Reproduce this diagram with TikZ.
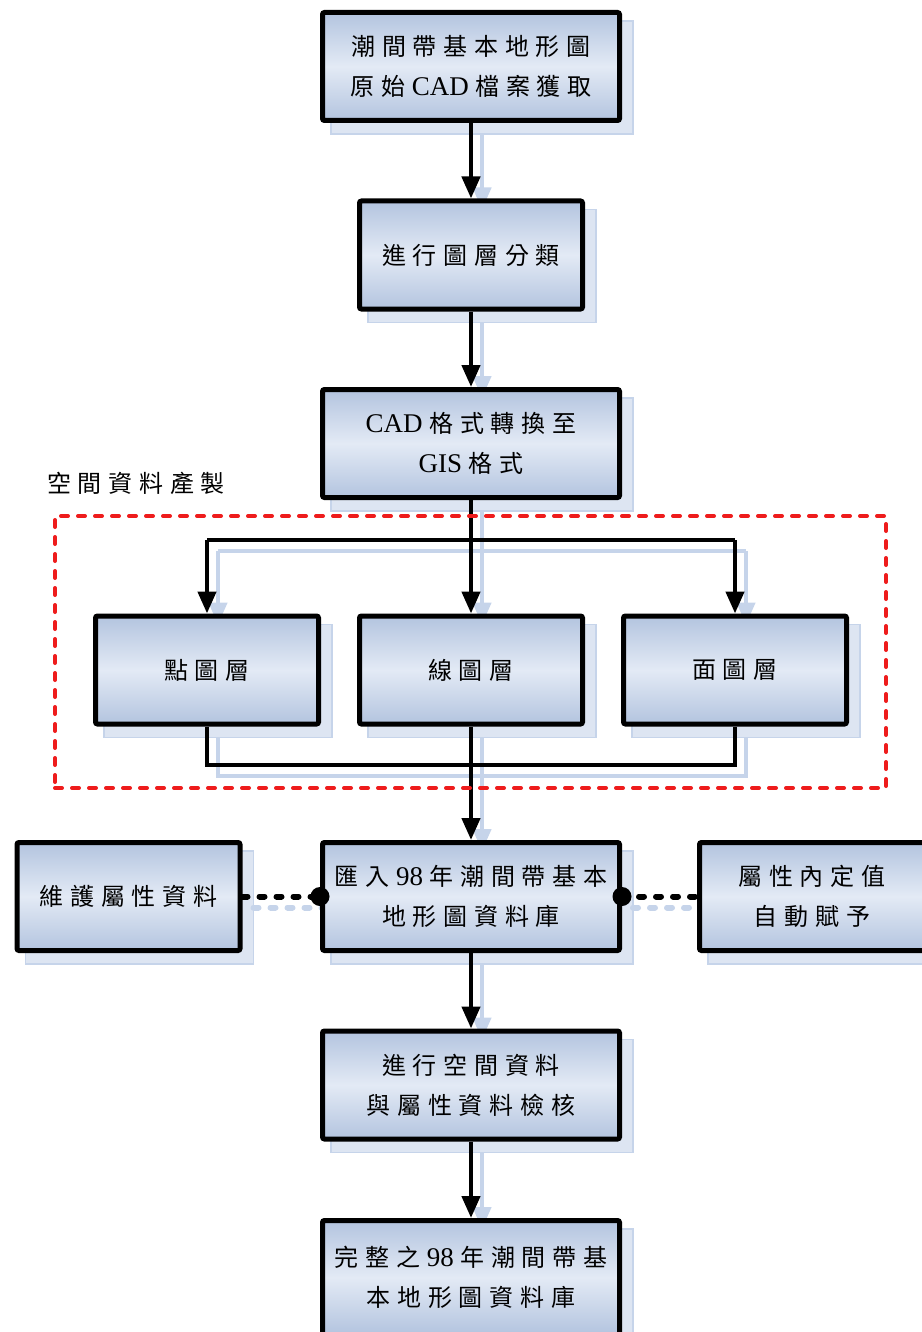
\documentclass[tikz,border=0pt]{standalone}
\usepackage{fontspec}
\newfontfamily\cjk{Noto Sans CJK TC}[LetterSpace=28]
\newfontfamily\latf{Liberation Serif}
\newcommand\ltn[1]{\hspace{6.7pt}{\latf\fontsize{27}{40}\selectfont #1}\hspace{6.7pt}}
\newcommand\ltnb[1]{{\latf\fontsize{27}{40}\selectfont #1}\hspace{6.7pt}}
\usetikzlibrary{arrows.meta}
\pgfdeclarelayer{shadow}
\pgfdeclarelayer{conn}
\pgfsetlayers{shadow,conn,main}
\definecolor{boxa}{HTML}{B3C4DF}
\definecolor{boxb}{HTML}{E3EAF5}
\definecolor{shfill}{HTML}{DDE5F2}
\definecolor{shline}{HTML}{C6D4EA}
\definecolor{dashred}{HTML}{EE1C1C}
\newcommand\boxshadow[1]{\fill[shfill, draw=shline, line width=1.5pt] ([shift={(11,11)}]#1.north west) rectangle ([shift={(11,11)}]#1.south east);}
\begin{document}
\begin{tikzpicture}[x=1pt,y=-1pt,
  box/.style={draw=black, line width=5pt, rounded corners=2pt,
    top color=boxa, bottom color=boxa, middle color=boxb,
    font=\cjk\fontsize{24}{40}\selectfont, align=center,
    inner sep=0pt, minimum height=108pt},
  widebox/.style={box, minimum width=297pt},
  midbox/.style={box, minimum width=223pt},
  flow/.style={line width=4.5pt, -{Triangle[length=22pt,width=18pt]}},
  branch/.style={line width=4pt},
  dotline/.style={line width=6pt, dash pattern=on 5pt off 12pt, line cap=round},
  junction/.style={circle, fill=black, inner sep=0pt, minimum size=19pt},
  shadowcopy/.style={draw=shline, transform canvas={shift={(11,11)}}},
  grouplabel/.style={font=\cjk\fontsize{24}{30}\selectfont, anchor=west, inner sep=0pt},
  groupbox/.style={draw=dashred, line width=4pt, dash pattern=on 7pt off 10pt, line cap=round, inner sep=0pt}
]
\useasboundingbox (0,0) rectangle (921,1332);

% nodes
\node[widebox] (b1) at (471,66.5) {潮間帶基本地形圖\\原始\ltn{CAD}檔案獲取};
\node[midbox] (b2) at (471,255) {進行圖層分類};
\node[widebox] (b3) at (471,443.5) {\ltnb{CAD}格式轉換至\\\ltnb{GIS}格式};
\node[grouplabel] (lab) at (47,483) {空間資料產製};
\node[groupbox, minimum width=831pt, minimum height=272pt] (grp) at (470.5,652) {};
\node[midbox] (p1) at (207,670) {點圖層};
\node[midbox] (p2) at (471,670) {線圖層};
\node[midbox] (p3) at (735,670) {面圖層};
\node[widebox] (b6) at (471,896.5) {匯入\ltn{98}年潮間帶基本\\地形圖資料庫};
\node[midbox] (b7) at (128.5,896.5) {維護屬性資料};
\node[box, minimum width=225pt] (b8) at (812,896.5) {屬性內定值\\自動賦予};
\node[widebox] (b9) at (471,1085) {進行空間資料\\與屬性資料檢核};
\node[widebox, minimum height=114pt] (b10) at (471,1277.5) {完整之\ltn{98}年潮間帶基\\本地形圖資料庫};

\coordinate (bl) at (207,540);
\coordinate (br) at (735,540);
\coordinate (ml) at (207,765);
\coordinate (mr) at (735,765);

% shadows
\begin{pgfonlayer}{shadow}
  \foreach \n in {b1,b2,b3,p1,p2,p3,b6,b7,b8,b9,b10} {\boxshadow{\n}}
  \draw[flow, shadowcopy] (b1.south) -- (b2.north);
  \draw[flow, shadowcopy] (b2.south) -- (b3.north);
  \draw[flow, shadowcopy] (b3.south) -- (p2.north);
  \draw[branch, shadowcopy] (bl) -- (br);
  \draw[flow, shadowcopy] (bl) -- (p1.north);
  \draw[flow, shadowcopy] (br) -- (p3.north);
  \draw[branch, shadowcopy] (p1.south) -- (ml) -- (mr) -- (p3.south);
  \draw[flow, shadowcopy] (p2.south) -- (b6.north);
  \draw[flow, shadowcopy] (b6.south) -- (b9.north);
  \draw[flow, shadowcopy] (b9.south) -- (b10.north);
  \draw[dotline, shadowcopy] (b7.east) -- (b6.west);
  \draw[dotline, shadowcopy] (b6.east) -- (b8.west);
\end{pgfonlayer}

% connectors
\begin{pgfonlayer}{conn}
  \draw[flow] (b1.south) -- (b2.north);
  \draw[flow] (b2.south) -- (b3.north);
  \draw[flow] (b3.south) -- (p2.north);
  \draw[branch] (bl) -- (br);
  \draw[flow] (bl) -- (p1.north);
  \draw[flow] (br) -- (p3.north);
  \draw[branch] (p1.south) -- (ml) -- (mr) -- (p3.south);
  \draw[flow] (p2.south) -- (b6.north);
  \draw[flow] (b6.south) -- (b9.north);
  \draw[flow] (b9.south) -- (b10.north);
  \draw[dotline] (b7.east) -- (b6.west);
  \draw[dotline] (b6.east) -- (b8.west);
\end{pgfonlayer}

\node[junction] (jl) at (b6.west) {};
\node[junction] (jr) at (b6.east) {};
\end{tikzpicture}
\end{document}
